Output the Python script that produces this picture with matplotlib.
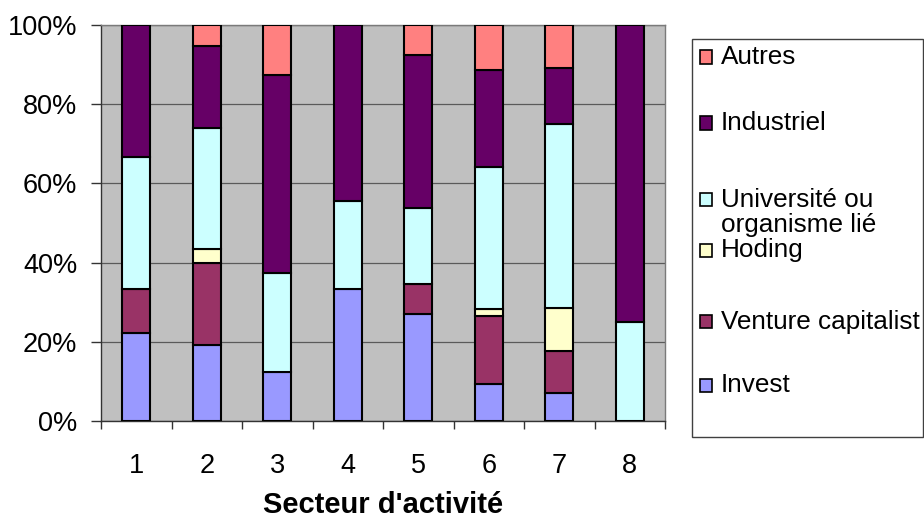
import matplotlib
matplotlib.use("Agg")
import matplotlib.pyplot as plt
from matplotlib.patches import Rectangle
from matplotlib.ticker import FixedLocator, PercentFormatter
import numpy as np

plt.rcParams['font.family'] = ['Liberation Sans', 'DejaVu Sans']

secteurs = ['1', '2', '3', '4', '5', '6', '7', '8']
series = ['Invest', 'Venture capitalist', 'Hoding', 'Université ou\norganisme lié',
          'Industriel', 'Autres']
invest = [22.2, 19.2, 12.5, 33.3, 26.9, 9.4, 7.1, 0.0]
venture = [11.1, 20.7, 0.0, 0.0, 7.7, 17.0, 10.7, 0.0]
hoding = [0.0, 3.6, 0.0, 0.0, 0.0, 1.9, 10.7, 0.0]
universite = [33.3, 30.6, 25.0, 22.2, 19.2, 35.8, 46.4, 25.0]
industriel = [33.4, 20.7, 50.0, 44.5, 38.5, 24.5, 14.3, 75.0]
autres = [0.0, 5.2, 12.5, 0.0, 7.7, 11.4, 10.8, 0.0]
couleurs = ['#9999FF', '#993366', '#FFFFCC', '#CCFFFF', '#660066', '#FF8080']

valeurs = [invest, venture, hoding, universite, industriel, autres]

W, H = 924, 520
fig = plt.figure(figsize=(W / 100, H / 100), dpi=100)
ax = fig.add_axes([101 / W, 1 - 421 / H, 564 / W, 396 / H])
ax.set_facecolor('#C0C0C0')

x = np.arange(1, len(secteurs) + 1)
base = np.zeros(len(secteurs))
for vals, col in zip(valeurs, couleurs):
    v = np.array(vals, dtype=float)
    mask = v > 0
    ax.bar(x[mask], v[mask], bottom=base[mask], width=0.4, color=col,
           edgecolor='black', linewidth=1.5, zorder=3)
    base += v

ax.set_xlim(0.5, 8.5)
ax.set_ylim(0, 100)
ax.yaxis.set_major_locator(FixedLocator([0, 20, 40, 60, 80, 100]))
ax.yaxis.set_major_formatter(PercentFormatter(decimals=0))
ax.grid(axis='y', color='#5a5a5a', linewidth=0.9, zorder=1)
ax.set_axisbelow(True)

ax.set_xticks(x)
ax.set_xticklabels(secteurs)
ax.set_xticks(np.arange(0.5, 9.0, 1.0), minor=True)
ax.tick_params(axis='x', which='major', length=0, pad=23, labelsize=19.5)
ax.tick_params(axis='x', which='minor', length=6, width=1, color='#333333')
ax.tick_params(axis='y', length=7, width=1, color='#333333', pad=10, labelsize=19.5)

for side in ['left', 'bottom']:
    ax.spines[side].set_color('#333333')
    ax.spines[side].set_linewidth(1.0)
for side in ['top', 'right']:
    ax.spines[side].set_color('#7a7a7a')
    ax.spines[side].set_linewidth(1.0)

ax.set_xlabel("Secteur d'activité", fontsize=21, fontweight='bold', labelpad=9)

# legend panel on the right, entries listed top to bottom
fig.patches.append(Rectangle((692 / W, 1 - 437 / H), (923 - 692) / W, (437 - 39) / H,
                             transform=fig.transFigure, facecolor='white',
                             edgecolor='#404040', linewidth=1.0))
legende = [('Autres', couleurs[5], 57),
           ('Industriel', couleurs[4], 123),
           ('Université ou\norganisme lié', couleurs[3], 200),
           ('Hoding', couleurs[2], 250),
           ('Venture capitalist', couleurs[1], 321.5),
           ('Invest', couleurs[0], 385)]
for nom, col, yc in legende:
    fig.patches.append(Rectangle((700 / W, 1 - (yc + 6.5) / H), 12 / W, 13 / H,
                                 transform=fig.transFigure, facecolor=col,
                                 edgecolor='black', linewidth=1.2))
    for i, ligne in enumerate(nom.split('\n')):
        fig.text(721 / W, 1 - (yc + 25 * i) / H, ligne, fontsize=18.8,
                 va='center', ha='left')

fig.savefig('out.png', dpi=100)
